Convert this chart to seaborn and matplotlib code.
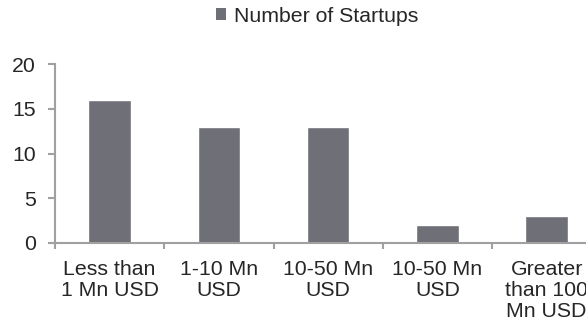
import matplotlib
matplotlib.use("Agg")
import matplotlib.pyplot as plt
import seaborn as sns
import pandas as pd
from matplotlib.patches import Rectangle

categories = ["Less than\n1 Mn USD", "1-10 Mn\nUSD", "10-50 Mn\nUSD", "10-50 Mn\nUSD",
              "Greater\nthan 100\nMn USD"]
startups = [16, 13, 13, 2, 3]
series_name = "Number of Startups"
y_ticks = [0, 5, 10, 15, 20]

sns.set_style("white")
plt.rcParams["font.family"] = ["Liberation Sans", "DejaVu Sans"]

# two categories share a label, so bars are keyed by position
df = pd.DataFrame({"slot": range(len(categories)), "count": startups})

W, H = 586, 328
fig = plt.figure(figsize=(W / 100, H / 100), dpi=100)
ax_left, ax_bottom = 55 / W, (H - 243) / H
ax_w, ax_h = 5 * 109.25 / W, 179 / H
ax = fig.add_axes([ax_left, ax_bottom, ax_w, ax_h])

bar_color = "#6f6f77"
sns.barplot(data=df, x="slot", y="count", color=bar_color, width=0.39,
            ax=ax, saturation=1, errorbar=None)

ax.set_xlim(-0.5, len(categories) - 0.5)
ax.set_ylim(0, 20)
ax.set_yticks(y_ticks)
ax.set_xticks(range(len(categories)))
ax.set_xticklabels(categories)
ax.set_xlabel("")
ax.set_ylabel("")

spine_color = "#a0a0a0"
for side in ["top", "right"]:
    ax.spines[side].set_visible(False)
for side in ["left", "bottom"]:
    ax.spines[side].set_color(spine_color)
    ax.spines[side].set_linewidth(1.5)

# category boundary ticks along the base line
ax.set_xticks([i - 0.5 for i in range(len(categories) + 1)], minor=True)
ax.tick_params(axis="x", which="minor", length=4, width=1.5, color=spine_color,
               direction="out", bottom=True)
ax.tick_params(axis="x", which="major", length=0, pad=12, labelsize=15.3)
ax.tick_params(axis="y", length=5, width=1.5, color=spine_color, direction="out",
               left=True, pad=9, labelsize=15.3)
for lbl in ax.get_xticklabels():
    lbl.set_linespacing(1.15)

# series legend with a small square swatch
swatch = Rectangle((0, 0), 1, 1, facecolor=bar_color, edgecolor="none")
fig.legend([swatch], [series_name], loc="center", bbox_to_anchor=(317 / W, 1 - 16 / H),
           frameon=False, fontsize=15.3, handlelength=0.47, handleheight=0.47,
           handletextpad=0.35, borderaxespad=0, borderpad=0)

fig.savefig("out.png", dpi=100)
